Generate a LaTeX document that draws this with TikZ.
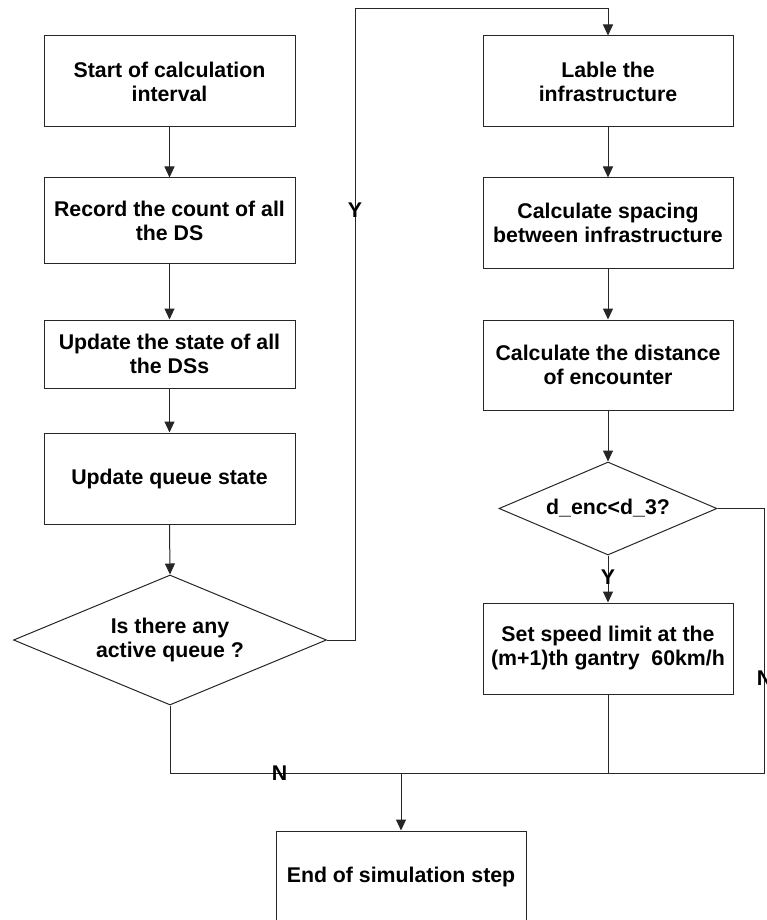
\documentclass[tikz,border=0pt]{standalone}
\usepackage{fontspec}
\setmainfont{Liberation Sans}
\usetikzlibrary{shapes.geometric,arrows.meta}
\begin{document}
\begin{tikzpicture}[x=1pt,y=-1pt,
  every node/.style={font=\bfseries\fontsize{21.3}{24}\selectfont, text=black},
  box/.style={draw=black!85, line width=1pt, rectangle, align=center, inner sep=0pt},
  lbox/.style={box, minimum width=251pt},
  rbox/.style={box, minimum width=250pt},
  dia/.style={draw=black!85, line width=1pt, diamond, align=center, inner sep=0pt},
  conn/.style={draw=black!85, line width=1pt},
  arr/.style={conn, -{Triangle[width=10pt,length=11pt]}},
  lab/.style={inner sep=0pt}
]
\useasboundingbox (0,0) rectangle (766,920);

% left column
\node[lbox, minimum height=91pt] (b1) at (169.5,81.5) {Start of calculation\\interval};
\node[lbox, minimum height=85pt] (b2) at (169.5,220.5) {Record the count of all\\the DS};
\node[lbox, minimum height=68pt] (b3) at (169.5,354) {Update the state of all\\the DSs};
\node[lbox, minimum height=91pt] (b4) at (169.5,478.5) {Update queue state};
\node[dia, minimum width=313pt, minimum height=130pt, shape aspect=2.4] (d1) at (170,640) {Is there any\\active queue ?};

% right column
\node[rbox, minimum height=91pt] (r1) at (608,81.5) {Lable the\\infrastructure};
\node[rbox, minimum height=90pt] (r2) at (608,223) {Calculate spacing\\between infrastructure};
\node[rbox, minimum height=90pt] (r3) at (608,365) {Calculate the distance\\of encounter};
\node[dia, minimum width=218pt, minimum height=93pt, shape aspect=2.34] (d2) at (608,508.5) {d\_enc<d\_3?};
\node[rbox, minimum height=91pt] (r4) at (608,648.5) {Set speed limit at the\\(m+1)th gantry\ \ 60km/h};

% end
\node[box, minimum width=250pt, minimum height=92pt] (e) at (401,877) {End of simulation step};

% helper coordinates
\coordinate (ytop) at (355,9);
\coordinate (nright) at (764,773);
\coordinate (merge) at (401,773);
\coordinate (r4foot) at (608,773);

% connectors left
\draw[arr] (b1.south) -- (b2.north);
\draw[arr] (b2.south) -- (b3.north);
\draw[arr] (b3.south) -- (b4.north);
\draw[arr] (b4.south) -- (d1.north);
\draw[arr] (d1.east) -| (ytop) -| (r1.north);

% connectors right
\draw[arr] (r1.south) -- (r2.north);
\draw[arr] (r2.south) -- (r3.north);
\draw[arr] (r3.south) -- (d2.north);
\draw[arr] (d2.south) -- (r4.north);
\draw[conn] (d2.east) -| (nright) -- (merge);
\draw[conn] (r4.south) -- (r4foot);
\draw[conn] (d1.south) |- (merge);
\draw[arr] (merge) -- (e.north);

% labels
\node[lab] (ly) at (355,210) {Y};
\node[lab] (ly2) at (608,577) {Y};
\node[lab] (ln) at (279.5,773) {N};
\node[lab] (ln2) at (764.5,678) {N};
\end{tikzpicture}
\end{document}
